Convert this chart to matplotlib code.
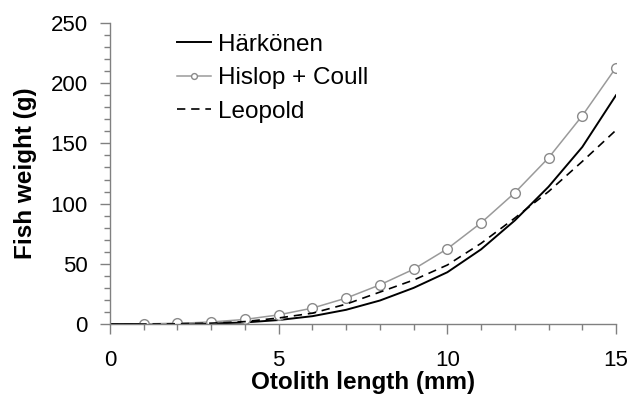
import matplotlib
matplotlib.use("Agg")
import matplotlib.pyplot as plt
from matplotlib.ticker import MultipleLocator

# otolith length (mm)
length_mm = [0, 1, 2, 3, 4, 5, 6, 7, 8, 9, 10, 11, 12, 13, 14, 15]
# fish weight (g)
harkonen = [0, 0.01, 0.1, 0.4, 1.3, 3.3, 6.5, 11.8, 19.5, 30, 43, 62, 86, 114, 147, 190]
leopold = [0, 0.02, 0.2, 0.7, 2.0, 5.0, 9.0, 16.5, 26.5, 36.5, 49, 67, 88, 110, 135, 161]
hislop_len = [1, 2, 3, 4, 5, 6, 7, 8, 9, 10, 11, 12, 13, 14, 15]
hislop_coull = [0.1, 0.5, 1.7, 3.8, 7.6, 13.2, 21.5, 32.5, 45.5, 62.5, 84, 109, 138, 173, 213]

plt.rcParams["font.family"] = ["Liberation Sans", "DejaVu Sans"]

fig = plt.figure(figsize=(6.3, 3.96), dpi=100)
ax = fig.add_axes([0.1746, 0.1818, 0.8032, 0.7601])

ax.plot(length_mm, harkonen, color="black", lw=1.4, label="Härkönen")
ax.plot(hislop_len, hislop_coull, color="#9a9a9a", lw=1.1, marker="o", ms=7,
        mfc="white", mec="#8a8a8a", mew=1.0, label="Hislop + Coull")
ax.plot(length_mm, leopold, color="black", lw=1.2, ls=(0, (5, 3.5)), label="Leopold")

ax.set_xlim(0, 15)
ax.set_ylim(0, 250)
ax.xaxis.set_major_locator(MultipleLocator(5))
ax.xaxis.set_minor_locator(MultipleLocator(1))
ax.yaxis.set_major_locator(MultipleLocator(50))
ax.yaxis.set_minor_locator(MultipleLocator(10))

for side in ("top", "right"):
    ax.spines[side].set_visible(False)
for side in ("left", "bottom"):
    ax.spines[side].set_color("#808080")
    ax.spines[side].set_linewidth(1.0)
ax.tick_params(which="major", length=7, width=1.0, color="#808080", labelsize=16)
ax.tick_params(which="minor", length=4, width=1.0, color="#808080")
ax.tick_params(axis="x", which="major", pad=12)
ax.tick_params(axis="y", which="major", pad=9)

ax.set_xlabel("Otolith length (mm)", fontsize=17.5, fontweight="bold", labelpad=0)
ax.set_ylabel("Fish weight (g)", fontsize=17.5, fontweight="bold", labelpad=10)

ax.legend(loc="upper left", bbox_to_anchor=(0.132, 0.965), frameon=False,
          fontsize=17.5, handlelength=1.4, handletextpad=0.3, labelspacing=0.48,
          borderpad=0, borderaxespad=0, markerscale=0.6)

fig.savefig("out.png", dpi=100)
